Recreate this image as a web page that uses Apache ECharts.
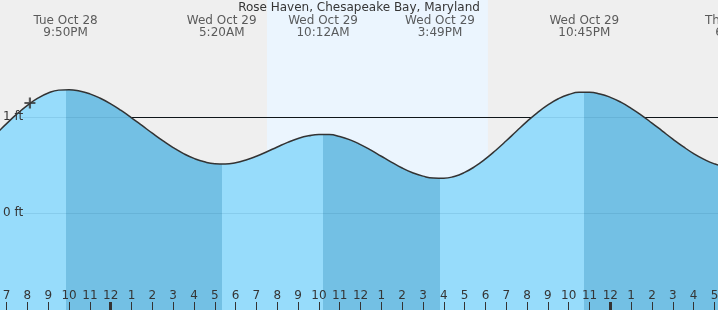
<!DOCTYPE html>
<html>
<head>
<meta charset="utf-8">
<script src="https://cdn.jsdelivr.net/npm/echarts@6/dist/echarts.min.js"></script>
<style>html,body{margin:0;padding:0;background:#efefef}#c{width:718px;height:310px}</style>
</head>
<body>
<div id="c"></div>
<script>
// Hours counted from Tue Oct 28 00:00
const titleText = 'Rose Haven, Chesapeake Bay, Maryland';
const viewStart = 18.683, viewEnd = 53.17;
const tideTimes = [18, 18.5, 19, 19.5, 20, 20.5, 21, 21.5, 22, 22.5, 23, 23.5, 24, 24.5, 25, 25.5, 26, 26.5, 27, 27.5, 28, 28.5, 29, 29.5, 30, 30.5, 31, 31.5, 32, 32.5, 33, 33.5, 34, 34.5, 35, 35.5, 36, 36.5, 37, 37.5, 38, 38.5, 39, 39.5, 40, 40.5, 41, 41.5, 42, 42.5, 43, 43.5, 44, 44.5, 45, 45.5, 46, 46.5, 47, 47.5, 48, 48.5, 49, 49.5, 50, 50.5, 51, 51.5, 52, 52.5, 53, 53.5, 54];
const tideHeights = [0.722, 0.826, 0.931, 1.032, 1.122, 1.196, 1.250, 1.280, 1.285, 1.271, 1.241, 1.195, 1.137, 1.068, 0.992, 0.912, 0.831, 0.753, 0.681, 0.619, 0.569, 0.533, 0.514, 0.511, 0.524, 0.552, 0.591, 0.638, 0.688, 0.736, 0.776, 0.804, 0.819, 0.817, 0.797, 0.762, 0.713, 0.655, 0.591, 0.528, 0.469, 0.420, 0.384, 0.364, 0.362, 0.381, 0.423, 0.485, 0.563, 0.654, 0.752, 0.854, 0.954, 1.046, 1.126, 1.190, 1.234, 1.257, 1.258, 1.240, 1.205, 1.155, 1.091, 1.018, 0.937, 0.853, 0.770, 0.691, 0.619, 0.559, 0.512, 0.481, 0.467];
const extremeTimes = [21.833, 29.333, 34.2, 39.817, 46.75, 54.13];
const extremeTypes = ['high', 'low', 'high', 'low', 'high', 'low'];
const extremeDays = ['Tue Oct 28', 'Wed Oct 29', 'Wed Oct 29', 'Wed Oct 29', 'Wed Oct 29', 'Thu Oct 30'];
const extremeClock = ['9:50PM', '5:20AM', '10:12AM', '3:49PM', '10:45PM', '6:08AM'];
const daylight = [31.507, 42.12];
const hourTicks = [19, 20, 21, 22, 23, 24, 25, 26, 27, 28, 29, 30, 31, 32, 33, 34, 35, 36, 37, 38, 39, 40, 41, 42, 43, 44, 45, 46, 47, 48, 49, 50, 51, 52, 53];
const midnightTicks = [24, 48];
const heightTicks = [0, 1];
const nowPoint = [20.12, 1.146];
const yMin = -1.0104, yMax = 2.2188;

const light = '#97dcfb', dark = '#73c0e4';
const txt = '#353535';
const font = 'DejaVu Sans';

// fill pieces: rising (before a high) light, falling (before a low) dark
const pieces = [];
let prev = null;
extremeTimes.forEach((t, i) => {
  const col = extremeTypes[i] === 'high' ? light : dark;
  const p = { color: col, lt: t };
  if (prev !== null) p.gte = prev;
  pieces.push(p);
  prev = t;
});
pieces.push({ gte: prev, color: extremeTypes[extremeTypes.length - 1] === 'high' ? dark : light });

const chart = echarts.init(document.getElementById('c'), null, { renderer: 'canvas' });
chart.setOption({
  backgroundColor: '#efefef',
  animation: false,
  title: {
    text: titleText, left: 'center', top: 2, padding: 0,
    textStyle: { fontFamily: font, fontSize: 12, fontWeight: 'normal', color: txt }
  },
  grid: [
    { left: 0, right: 0, top: 0, bottom: 0, containLabel: false, outerBoundsMode: 'none' },
    { left: 22, right: 0, top: 117, height: 96, containLabel: false, outerBoundsMode: 'none' }
  ],
  xAxis: [
    {
      type: 'value', gridIndex: 0, min: viewStart, max: viewEnd, position: 'bottom', z: 10,
      axisLine: { show: false, onZero: false }, splitLine: { show: false },
      axisTick: { show: true, inside: true, length: 8, customValues: hourTicks, lineStyle: { color: '#333', width: 1 } },
      axisLabel: {
        show: true, inside: true, margin: 8, customValues: hourTicks, hideOverlap: false,
        fontFamily: font, fontSize: 12, color: txt,
        formatter: v => { const h = Math.round(v) % 12; return String(h === 0 ? 12 : h); }
      }
    },
    {
      type: 'value', gridIndex: 0, min: viewStart, max: viewEnd, position: 'bottom', z: 10,
      axisLine: { show: false, onZero: false }, splitLine: { show: false }, axisLabel: { show: false },
      axisTick: { show: true, inside: true, length: 8, customValues: midnightTicks, lineStyle: { color: '#333', width: 3 } }
    },
    { type: 'value', gridIndex: 1, min: viewStart, max: viewEnd, show: false }
  ],
  yAxis: [
    {
      type: 'value', gridIndex: 0, min: yMin, max: yMax,
      axisLine: { show: false, onZero: false }, axisTick: { show: false }, splitLine: { show: false },
      axisLabel: { show: true, inside: true, margin: 3, customValues: heightTicks,
        fontFamily: font, fontSize: 12, color: txt, formatter: '{value} ft' },
      z: 6
    },
    {
      type: 'value', gridIndex: 1, min: 0, max: 1, interval: 1, z: 2,
      axisLine: { show: false }, axisTick: { show: false }, axisLabel: { show: false },
      splitLine: { show: true, lineStyle: { color: '#111', width: 1 } }
    },
    {
      type: 'value', gridIndex: 1, min: 0, max: 1, interval: 1, z: 4,
      axisLine: { show: false }, axisTick: { show: false }, axisLabel: { show: false },
      splitLine: { show: true, lineStyle: { color: 'rgba(0,70,110,0.10)', width: 1 } }
    }
  ],
  visualMap: {
    show: false, type: 'piecewise', dimension: 0, seriesIndex: 1, pieces: pieces
  },
  series: [
    {
      type: 'line', xAxisIndex: 0, yAxisIndex: 0, data: [], z: 1, silent: true,
      markArea: {
        silent: true, z: 1,
        itemStyle: { color: '#ebf5fe' },
        data: [[{ xAxis: daylight[0] }, { xAxis: daylight[1] }]]
      }
    },
    {
      type: 'line', xAxisIndex: 0, yAxisIndex: 0, z: 3, smooth: true, showSymbol: false, silent: true,
      data: tideTimes.map((t, i) => [t, tideHeights[i]]),
      lineStyle: { color: '#333', width: 1.5 },
      areaStyle: { origin: 'start', opacity: 1 }
    },
    {
      type: 'scatter', xAxisIndex: 0, yAxisIndex: 0, z: 5, silent: true,
      symbol: 'path://M4,0h2v4h4v2h-4v4h-2v-4h-4v-2h4z', symbolSize: 11,
      itemStyle: { color: '#333' },
      data: [nowPoint]
    },
    {
      type: 'scatter', xAxisIndex: 0, yAxisIndex: 0, z: 6, silent: true, clip: false,
      symbolSize: 0,
      data: extremeTimes.map(t => [t, yMax]),
      label: {
        show: true, position: 'bottom', distance: 15,
        fontFamily: font, fontSize: 12, color: txt, lineHeight: 12, align: 'center',
        formatter: p => extremeDays[p.dataIndex] + '\n' + extremeClock[p.dataIndex]
      }
    }
  ]
});
</script>
</body>
</html>
